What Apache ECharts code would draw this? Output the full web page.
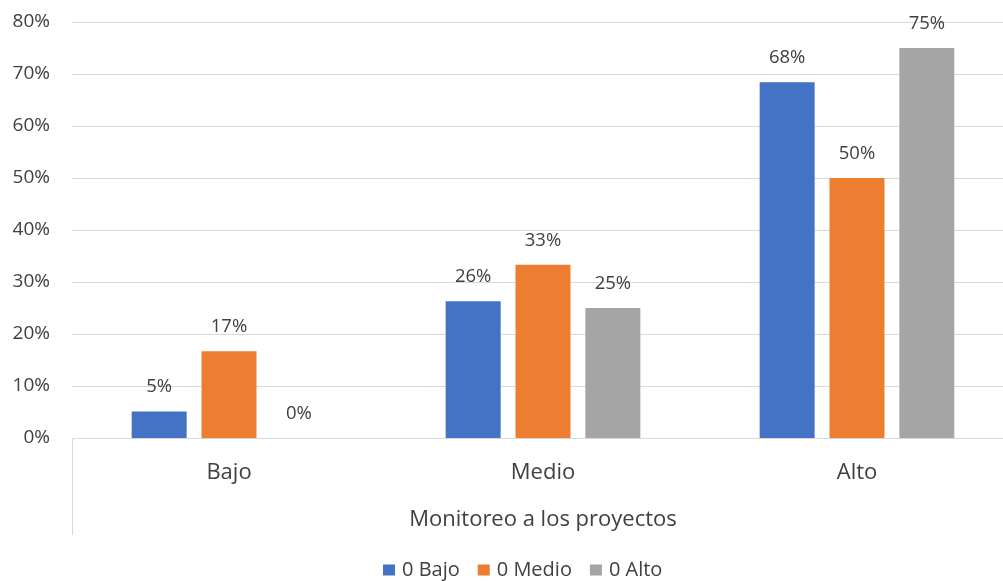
<!DOCTYPE html>
<html><head><meta charset="utf-8">
<script src="https://cdn.jsdelivr.net/npm/echarts@6/dist/echarts.min.js"></script>
<style>html,body{margin:0;padding:0;background:#fff;overflow:hidden;width:1003px;height:581px}#c{width:1014px;height:581px}</style>
</head><body><div id="c"></div>
<script>
var categories = ['Bajo', 'Medio', 'Alto'];
var seriesNames = ['0 Bajo', '0 Medio', '0 Alto'];
var valuesBajo = [5.1, 26.3, 68.4];
var valuesMedio = [16.7, 33.3, 50.0];
var valuesAlto = [0, 25.0, 75.0];
var yTicks = [0, 10, 20, 30, 40, 50, 60, 70, 80];
var axisTitle = 'Monitoreo a los proyectos';
var colors = ['#4472C4', '#ED7D31', '#A5A5A5'];
var FONT = 'Open Sans';

var chart = echarts.init(document.getElementById('c'));
function mk(name, data, color) {
  return {
    name: name, type: 'bar', data: data, barWidth: 55, barGap: '27%',
    itemStyle: {color: color},
    label: {show: true, position: 'top', distance: 15, color: '#404040', fontSize: 18.5, fontFamily: FONT,
      formatter: function (p) { return Math.round(p.value) + '%'; }}
  };
}
chart.setOption({
  animation: false,
  textStyle: {fontFamily: FONT},
  grid: {left: 72, top: 22, right: 0, height: 416, containLabel: false},
  legend: {
    top: 560, left: 383, padding: 0, itemWidth: 12, itemHeight: 11, itemGap: 18, icon: 'rect',
    textStyle: {color: '#404040', fontSize: 20, fontFamily: FONT, padding: [0, 0, 0, 2]},
    data: seriesNames
  },
  xAxis: {
    type: 'category', data: categories,
    name: axisTitle, nameLocation: 'middle', nameGap: 71,
    nameTextStyle: {color: '#404040', fontSize: 22, fontFamily: FONT},
    axisLine: {show: true, lineStyle: {color: '#d9d9d9', width: 1}},
    axisTick: {show: true, length: 97, lineStyle: {color: '#d9d9d9'}, interval: function (i) { return i === 0; }},
    axisLabel: {color: '#404040', fontSize: 22, fontFamily: FONT, margin: 24}
  },
  yAxis: {
    type: 'value', min: yTicks[0], max: yTicks[yTicks.length - 1], interval: 10,
    axisLine: {show: false}, axisTick: {show: false},
    splitLine: {lineStyle: {color: '#d9d9d9', width: 1}},
    axisLabel: {color: '#404040', fontSize: 19, fontFamily: FONT, margin: 22,
      formatter: function (v) { return v + '%'; }}
  },
  series: [mk(seriesNames[0], valuesBajo, colors[0]), mk(seriesNames[1], valuesMedio, colors[1]), mk(seriesNames[2], valuesAlto, colors[2])]
});
</script></body></html>
